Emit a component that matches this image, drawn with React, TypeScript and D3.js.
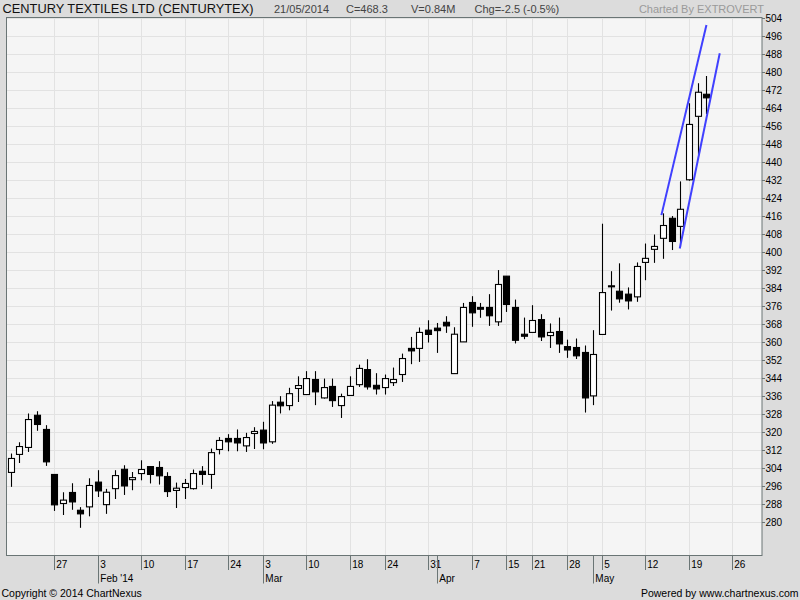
import React from "react";
import * as d3 from "d3";

// ---- data (trading days, 20 Jan 2014 – 21 May 2014) ----
const dates = [
  "2014-01-20","2014-01-21","2014-01-22","2014-01-23","2014-01-24",
  "2014-01-27","2014-01-28","2014-01-29","2014-01-30","2014-01-31",
  "2014-02-03","2014-02-04","2014-02-05","2014-02-06","2014-02-07",
  "2014-02-10","2014-02-11","2014-02-12","2014-02-13","2014-02-14",
  "2014-02-17","2014-02-18","2014-02-19","2014-02-20","2014-02-21",
  "2014-02-24","2014-02-25","2014-02-26","2014-02-28",
  "2014-03-03","2014-03-04","2014-03-05","2014-03-06","2014-03-07",
  "2014-03-10","2014-03-11","2014-03-12","2014-03-13","2014-03-14",
  "2014-03-18","2014-03-19","2014-03-20","2014-03-21",
  "2014-03-24","2014-03-25","2014-03-26","2014-03-27","2014-03-28",
  "2014-03-31","2014-04-01","2014-04-02","2014-04-03","2014-04-04",
  "2014-04-07","2014-04-09","2014-04-10","2014-04-11",
  "2014-04-15","2014-04-16","2014-04-17",
  "2014-04-21","2014-04-22","2014-04-23","2014-04-25",
  "2014-04-28","2014-04-29","2014-04-30","2014-05-02",
  "2014-05-05","2014-05-06","2014-05-07","2014-05-08","2014-05-09",
  "2014-05-12","2014-05-13","2014-05-14","2014-05-15","2014-05-16",
  "2014-05-19","2014-05-20","2014-05-21",
];

const opens = [
  301.9, 309.9, 313.0, 327.3, 321.0,
  301.0, 288.1, 293.0, 285.1, 286.6,
  297.6, 287.6, 294.7, 303.3, 298.7,
  301.4, 304.5, 304.1, 300.1, 293.9,
  295.2, 294.7, 302.4, 301.0, 312.1,
  317.0, 317.0, 313.7, 319.2,
  320.7, 315.5, 333.1, 331.6, 339.2,
  336.5, 343.2, 335.0, 340.1, 331.6,
  336.1, 340.9, 347.6, 340.6,
  339.6, 341.8, 345.4, 357.0, 357.0,
  365.1, 366.0, 368.6, 345.8, 359.9,
  377.4, 375.2, 375.2, 368.8,
  389.1, 375.2, 363.3,
  364.1, 369.8, 362.7, 364.5,
  357.8, 357.4, 355.2, 335.9,
  363.2, 384.8, 382.4, 381.1, 379.9,
  395.2, 401.0, 405.9, 414.8, 411.2,
  431.9, 460.1, 469.9,
];

const highs = [
  310.3, 315.3, 328.1, 329.1, 322.9,
  301.0, 293.1, 297.1, 286.5, 299.3,
  302.9, 294.6, 302.9, 305.1, 302.1,
  307.3, 304.5, 306.9, 302.0, 297.4,
  299.0, 303.2, 304.7, 312.5, 317.6,
  318.9, 321.0, 319.5, 322.0,
  324.4, 333.6, 335.8, 339.5, 344.6,
  346.9, 346.9, 343.6, 343.6, 336.9,
  344.6, 349.8, 352.2, 346.0,
  345.4, 348.5, 354.7, 362.1, 366.3,
  369.5, 368.3, 371.3, 366.4, 377.2,
  380.2, 377.2, 381.1, 391.8,
  389.1, 378.7, 370.7,
  376.2, 372.2, 368.1, 370.7,
  360.9, 361.4, 358.3, 365.1,
  412.4, 391.3, 394.8, 384.1, 395.2,
  403.6, 407.6, 417.0, 415.8, 431.2,
  465.9, 474.8, 478.0,
];

const lows = [
  295.5, 306.1, 311.0, 320.4, 304.8,
  284.8, 283.0, 285.3, 277.3, 282.4,
  291.0, 283.5, 290.1, 291.9, 294.0,
  298.4, 297.0, 296.5, 291.0, 286.1,
  290.1, 294.3, 296.4, 294.6, 309.9,
  311.3, 311.3, 311.0, 312.3,
  312.2, 314.6, 328.1, 329.5, 333.2,
  336.5, 331.8, 334.7, 331.0, 326.1,
  336.1, 339.9, 338.7, 336.5,
  336.5, 340.3, 342.1, 350.0, 351.0,
  359.6, 355.0, 363.9, 345.8, 359.9,
  366.6, 370.6, 367.0, 367.0,
  373.2, 359.2, 361.1,
  364.1, 360.3, 357.2, 355.0,
  352.8, 352.3, 328.5, 331.8,
  363.2, 373.8, 377.3, 374.3, 377.7,
  387.3, 395.0, 396.8, 400.7, 401.9,
  431.5, 443.0, 461.1,
];

const closes = [
  308.1, 313.4, 325.4, 323.2, 306.6,
  287.5, 289.6, 288.8, 283.5, 296.1,
  293.7, 293.1, 300.5, 295.9, 299.6,
  303.2, 301.0, 300.4, 293.4, 294.9,
  297.0, 301.4, 301.0, 310.7, 316.1,
  315.5, 315.0, 317.4, 320.1,
  315.0, 331.8, 331.5, 336.9, 340.5,
  343.6, 337.7, 339.6, 333.8, 335.6,
  340.1, 348.1, 339.9, 339.0,
  343.6, 343.2, 352.5, 355.9, 364.1,
  363.2, 364.9, 367.0, 363.3, 375.2,
  372.8, 374.4, 371.5, 385.4,
  376.5, 360.6, 362.4,
  369.4, 362.1, 364.1, 359.0,
  356.3, 353.7, 335.0, 354.3,
  381.8, 384.5, 379.0, 378.1, 393.4,
  397.0, 402.3, 411.6, 404.5, 418.8,
  456.5, 470.8, 468.3,
];

// price axis
const yTickValues = [
  280, 288, 296, 304, 312, 320, 328, 336, 344, 352, 360, 368, 376, 384, 392,
  400, 408, 416, 424, 432, 440, 448, 456, 464, 472, 480, 488, 496, 504,
];

// time axis (trading-day slot of each tick; 83 = 26 May, beyond the data)
const weekTickLabels = ["27","3","10","17","24","3","10","18","24","31","7","15","21","28","5","12","19","26"];
const weekTickSlots = [5, 10, 15, 20, 25, 29, 34, 39, 43, 48, 53, 57, 60, 64, 68, 73, 78, 83];
const monthLabels = ["Feb '14", "Mar", "Apr", "May"];
const monthSlots = [10, 29, 49, 67];

// user-drawn trend channel: [slot, price] pairs
const trendLine1 = [[74.83, 416.2], [80.01, 500.7]];
const trendLine2 = [[76.94, 401.4], [81.54, 488.1]];

const titleText = "CENTURY TEXTILES LTD (CENTURYTEX)";
const infoTexts = ["21/05/2014", "C=468.3", "V=0.84M", "Chg=-2.5 (-0.5%)"];
const chartedBy = "Charted By EXTROVERT";
const copyright = "Copyright \u00A9 2014 ChartNexus";
const poweredBy = "Powered by www.chartnexus.com";

const W = 800;
const H = 600;
const plot = { left: 6.5, right: 762, top: 17.5, bottom: 555.5 };
const FONT = "'Liberation Sans', Arial, Helvetica, sans-serif";

export default function App() {
  const x = d3.scaleLinear().domain([-0.49, 86.4]).range([plot.left, plot.right]);
  const y = d3.scaleLinear().domain([265.0, 504]).range([plot.bottom, plot.top]);

  const candles = dates.map((d, i) => ({
    date: d,
    o: opens[i],
    h: highs[i],
    l: lows[i],
    c: closes[i],
    i,
  }));

  const line = d3
    .line<number[]>()
    .x((p) => x(p[0]))
    .y((p) => y(p[1]));

  const infoX = [274, 346, 411, 474.5];

  return (
    <svg
      width={W}
      height={H}
      style={{ position: "absolute", left: 0, top: 0, display: "block" }}
      fontFamily={FONT}
    >
      <rect x={0} y={0} width={W} height={H} fill="#dcdcdc" />

      {/* header */}
      <text x={2.5} y={12.8} fontSize={13} fill="#111" textLength={251} lengthAdjust="spacingAndGlyphs">
        {titleText}
      </text>
      {infoTexts.map((t, k) => (
        <text key={t} x={infoX[k]} y={12.8} fontSize={11} fill="#444">
          {t}
        </text>
      ))}
      <text x={764} y={12.8} fontSize={11} fill="#9a9a9a" textAnchor="end">
        {chartedBy}
      </text>

      {/* plot area */}
      <rect
        x={plot.left}
        y={plot.top}
        width={plot.right - plot.left}
        height={plot.bottom - plot.top}
        fill="#f5f5f5"
      />

      {/* grid */}
      {yTickValues.map((v) => (
        <line
          key={"gy" + v}
          x1={plot.left}
          x2={plot.right}
          y1={Math.round(y(v)) + 0.5}
          y2={Math.round(y(v)) + 0.5}
          stroke="#e2e2e2"
          strokeWidth={1}
        />
      ))}
      {weekTickSlots.map((s) => (
        <line
          key={"gx" + s}
          x1={Math.round(x(s)) + 0.5}
          x2={Math.round(x(s)) + 0.5}
          y1={plot.top}
          y2={plot.bottom}
          stroke="#e2e2e2"
          strokeWidth={1}
        />
      ))}

      {/* candles */}
      {candles.map((d) => {
        const cx = Math.round(x(d.i));
        const up = d.c >= d.o;
        const yTop = y(Math.max(d.o, d.c));
        const yBot = y(Math.min(d.o, d.c));
        const hgt = Math.max(1, yBot - yTop);
        return (
          <g key={d.date}>
            <line
              x1={cx + 0.5}
              x2={cx + 0.5}
              y1={y(d.h)}
              y2={y(d.l)}
              stroke="#000"
              strokeWidth={1.1}
            />
            <rect
              x={cx - 2.5}
              y={yTop}
              width={6}
              height={hgt}
              fill={up ? "#ffffff" : "#000000"}
              stroke="#000"
              strokeWidth={1.1}
            />
          </g>
        );
      })}

      {/* trend lines */}
      {[trendLine1, trendLine2].map((tl, k) => (
        <path key={"tl" + k} d={line(tl) || ""} stroke="#4040ff" strokeWidth={2} fill="none" />
      ))}

      {/* plot border */}
      <rect
        x={plot.left}
        y={plot.top}
        width={plot.right - plot.left}
        height={plot.bottom - plot.top}
        fill="none"
        stroke="#6a7575"
        strokeWidth={1}
      />

      {/* y axis */}
      {yTickValues.map((v) => {
        const yy = Math.round(y(v)) + 0.5;
        return (
          <g key={"yt" + v}>
            <line x1={plot.right} x2={plot.right + 3} y1={yy} y2={yy} stroke="#6a7575" />
            <text x={plot.right + 3.5} y={yy + 3.6} fontSize={10} fill="#000">
              {v}
            </text>
          </g>
        );
      })}

      {/* x axis */}
      {weekTickSlots.map((s, k) => {
        const xx = Math.round(x(s)) + 0.5;
        return (
          <g key={"xt" + s}>
            <line x1={xx} x2={xx} y1={plot.bottom} y2={570} stroke="#6a7575" />
            <text x={xx + 1.8} y={567.5} fontSize={10} fill="#000">
              {weekTickLabels[k]}
            </text>
          </g>
        );
      })}
      {monthSlots.map((s, k) => {
        const xx = Math.round(x(s)) + 0.5;
        return (
          <g key={"mt" + s}>
            <line x1={xx} x2={xx} y1={plot.bottom} y2={583.5} stroke="#6a7575" />
            <text x={xx + 1.8} y={581.5} fontSize={10} fill="#000">
              {monthLabels[k]}
            </text>
          </g>
        );
      })}

      {/* footer */}
      <text x={1.5} y={596.5} fontSize={10.5} fill="#000">
        {copyright}
      </text>
      <text x={798.5} y={596.5} fontSize={10.5} fill="#000" textAnchor="end">
        {poweredBy}
      </text>
    </svg>
  );
}
